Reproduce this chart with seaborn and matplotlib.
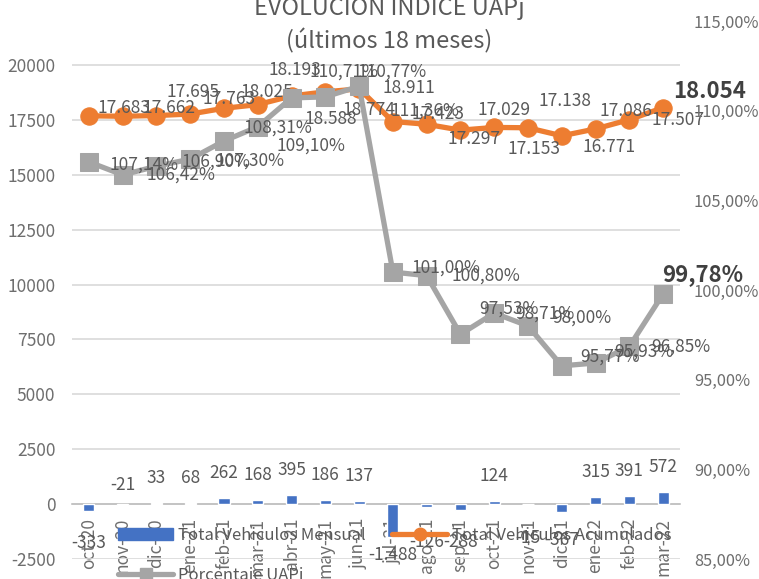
import numpy as np
import pandas as pd
import matplotlib
matplotlib.use("Agg")
import matplotlib.pyplot as plt
import seaborn as sns
from matplotlib.lines import Line2D
from matplotlib.patches import Patch

# Data
meses = ["oct-20", "nov-20", "dic-20", "ene-21", "feb-21", "mar-21", "abr-21", "may-21", "jun-21",
         "jul-21", "ago-21", "sep-21", "oct-21", "nov-21", "dic-21", "ene-22", "feb-22", "mar-22"]
mensual = [-333, -21, 33, 68, 262, 168, 395, 186, 137, -1488, -126, -288, 124, -15, -367, 315, 391, 572]
acumulados = [17683, 17662, 17695, 17763, 18025, 18193, 18588, 18774, 18911,
              17423, 17297, 17029, 17153, 17138, 16771, 17086, 17507, 18054]
porcentaje = [107.14, 106.42, 106.90, 107.30, 108.31, 109.10, 110.71, 110.77, 111.36,
              101.00, 100.80, 97.53, 98.71, 98.00, 95.77, 95.93, 96.85, 99.78]

# label offsets (pixels) to mimic the hand-moved Excel labels
acu_off = [(9, 8), (20, 8), (10, 24), (12, 15), (16, 16), (11, 35), (13, -23), (17, -18), (23, 1),
           (19, 8), (21, -15), (17, 20), (13, -22), (10, 27), (21, -11), (4, 18), (22, 0), (10, 16)]
por_off = [(21, -3), (24, 0), (25, 5), (25, -2), (19, 13), (19, -19), (18, 26), (32, 25), (31, -24),
           (19, 4), (25, 0), (19, 26), (21, 0), (24, 8), (18, 9), (19, 11), (22, 0), (-1, 19)]
bar_dy = [-32, 20, 25, 25, 25, 25, 25, 25, 25, -18, -35, -32, 25, -34, -28, 25, 25, 25]

df = pd.DataFrame({"mes": meses, "mensual": mensual, "acumulados": acumulados,
                   "porcentaje": porcentaje, "pos": np.arange(len(meses))})

sns.set_style("white")
plt.rcParams["font.family"] = ["Noto Sans CJK JP", "DejaVu Sans"]

TXT = "#595959"
TICK = "#6E6E6E"
LBL = "#404040"
BLUE = "#4472C4"
ORANGE = "#ED7D31"
GRAY = "#A5A5A5"

W, H = 759, 579
fig = plt.figure(figsize=(W / 100, H / 100), dpi=100)
x0, x1, ytop, ybot = 72, 680, 21, 559
ax = fig.add_axes([x0 / W, 1 - ybot / H, (x1 - x0) / W, (ybot - ytop) / H])
ax2 = ax.twinx()

# bars (left axis)
sns.barplot(data=df, x="mes", y="mensual", color=BLUE, saturation=1, width=0.33,
            errorbar=None, ax=ax, zorder=3)
# accumulated line (left axis)
sns.lineplot(data=df, x="pos", y="acumulados", color=ORANGE, lw=3.8, marker="o", ms=12.5,
             mec=ORANGE, ax=ax, zorder=4)
# percentage line (right axis)
sns.lineplot(data=df, x="pos", y="porcentaje", color=GRAY, lw=3.8, marker="s", ms=12.5,
             mec=GRAY, ax=ax2, zorder=5)

ax.set_xlim(-0.5, len(meses) - 0.5)
ax.set_ylim(-2500, 22000)
ax.set_yticks(np.arange(-2500, 20001, 2500))
ax.set_yticklabels([f"{int(v)}" for v in np.arange(-2500, 20001, 2500)])
ax2.set_ylim(85, 115)
ax2.set_yticks(np.arange(85, 116, 5))
ax2.set_yticklabels([f"{v:.2f}%".replace(".", ",") for v in np.arange(85, 116, 5)])

ax.yaxis.grid(True, color="#D9D9D9", lw=1.2, zorder=0)
ax.set_axisbelow(True)
for s in ["top", "left", "right"]:
    ax.spines[s].set_visible(False)
    ax2.spines[s].set_visible(False)
ax2.spines["bottom"].set_visible(False)
ax.spines["bottom"].set_position(("data", 0))
ax.spines["bottom"].set_color("#BFBFBF")
ax.spines["bottom"].set_linewidth(1.2)
ax.spines["bottom"].set_zorder(2)

ax.set_xticks(np.arange(len(meses)))
ax.set_xticklabels(meses, rotation=90, va="top", ha="center")
ax.set_xticks(np.arange(len(meses) + 1) - 0.5, minor=True)
ax.tick_params(axis="x", which="major", length=0, pad=10, labelsize=12.5, labelcolor=TICK)
ax.tick_params(axis="x", which="minor", length=6, width=1.2, color="#BFBFBF", direction="out")
ax.tick_params(axis="y", length=0, pad=12, labelsize=12.5, labelcolor=TICK)
ax2.tick_params(axis="y", length=0, pad=10, labelsize=11.8, labelcolor=TICK)
ax.set_xlabel("")
ax.set_ylabel("")
ax2.set_ylabel("")

# data labels
for i, v in enumerate(acumulados):
    dx, dy = acu_off[i]
    last = i == len(meses) - 1
    ax.annotate(f"{v:,}".replace(",", "."), (i, v), xytext=(dx, dy), textcoords="offset pixels",
                ha="left", va="center", fontsize=16 if last else 12.5,
                fontweight="bold" if last else "normal", color=LBL if last else TXT, zorder=6)
for i, v in enumerate(porcentaje):
    dx, dy = por_off[i]
    last = i == len(meses) - 1
    ax2.annotate(f"{v:.2f}%".replace(".", ","), (i, v), xytext=(dx, dy), textcoords="offset pixels",
                 ha="left", va="center", fontsize=16 if last else 12.5,
                 fontweight="bold" if last else "normal", color=LBL if last else TXT, zorder=6)
for i, v in enumerate(mensual):
    ax.annotate(f"{v:,}".replace(",", "."), (i, v), xytext=(0, bar_dy[i]), textcoords="offset pixels",
                ha="center", va="center", fontsize=12.5, color=TXT, zorder=6)

# title (top line partly cut off, as in the reference)
fig.text(389 / W, 1 - 6 / H, "EVOLUCIÓN ÍNDICE UAPj", ha="center", va="center",
         fontsize=17, color=TXT)
fig.text(389 / W, 1 - 41 / H, "(últimos 18 meses)", ha="center", va="center",
         fontsize=17, color=TXT)

handles = [Patch(color=BLUE),
           Line2D([], [], color=GRAY, lw=3.8, marker="s", ms=9),
           Line2D([], [], color=ORANGE, lw=3.8, marker="o", ms=9)]
labels = ["Total Vehiculos Mensual", "Porcentaje UAPj", "Total Vehiculos Acumulados"]
leg = fig.legend(handles, labels, loc="upper left", bbox_to_anchor=(118 / W, 1 - 527 / H),
                 ncol=2, frameon=False, fontsize=12, borderpad=0, handlelength=3.3,
                 handletextpad=0.3, columnspacing=1.6, labelspacing=1.35, borderaxespad=0)
for t in leg.get_texts():
    t.set_color(TXT)

fig.savefig("out.png", dpi=100)
